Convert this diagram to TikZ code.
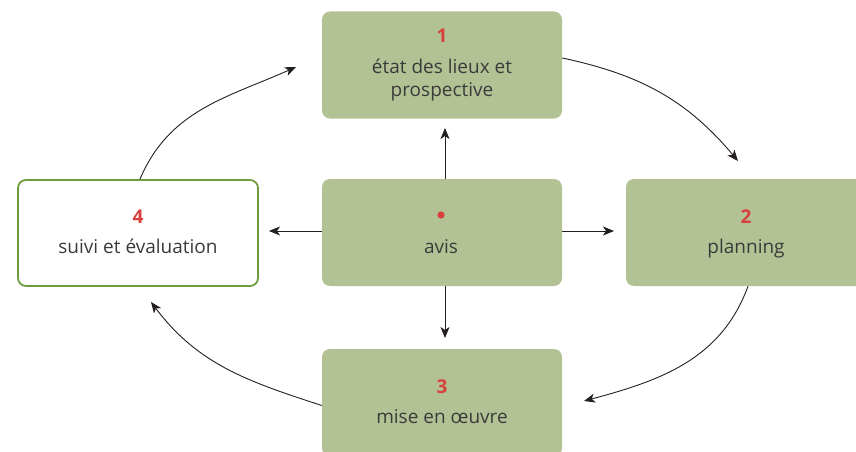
\documentclass[tikz,border=0pt]{standalone}
\usepackage{fontspec}
\setmainfont{Open Sans}
\usetikzlibrary{arrows.meta}
\definecolor{boxfill}{HTML}{B3C294}
\definecolor{boxline}{HTML}{6F9C3E}
\definecolor{numred}{HTML}{D8403E}
\definecolor{txtgray}{HTML}{3B3B3B}
\definecolor{arrowink}{HTML}{231F20}
\begin{document}
\begin{tikzpicture}[x=1pt,y=-1pt,
  stepbox/.style={rectangle, rounded corners=8pt, fill=boxfill, draw=none,
    minimum width=240pt, minimum height=107pt, inner sep=0pt},
  openbox/.style={rectangle, rounded corners=8pt, fill=white, draw=boxline,
    line width=1.8pt, minimum width=240pt, minimum height=106pt, inner sep=0pt},
  numlabel/.style={font=\fontsize{19}{22}\selectfont\bfseries, text=numred,
    inner sep=0pt, anchor=base},
  steptext/.style={font=\fontsize{19}{22}\selectfont, text=txtgray,
    inner sep=0pt, anchor=base, align=center},
  arr/.style={draw=arrowink, line width=0.9pt,
    -{Stealth[length=11pt,width=9pt,inset=3pt]}},
]
\clip (0,0) rectangle (856,452);

% boxes
\node[stepbox] (etat) at (442,65) {};
\node[stepbox] (avis) at (442,232.5) {};
\node[stepbox] (plan) at (746,232.5) {};
\node[stepbox] (mise) at (442,402.5) {};
\node[openbox] (suivi) at (138,233) {};

% numbers and texts
\node[numlabel] (n1) at (442,43) {1};
\node[steptext] (t1a) at (442,74) {état des lieux et};
\node[steptext] (t1b) at (442,96) {prospective};

\fill[numred] (441,215) circle (3.6pt);
\node[steptext] (tavis) at (441,253) {avis};

\node[numlabel] (n2) at (746,223) {2};
\node[steptext] (t2) at (746,253) {planning};

\node[numlabel] (n3) at (442,393) {3};
\node[steptext] (t3) at (442,423) {mise en œuvre};

\node[numlabel] (n4) at (138,223) {4};
\node[steptext] (t4) at (138,253) {suivi et évaluation};

% arrow tips
\coordinate (upTip) at (445,128);
\coordinate (downTip) at (445,338);
\coordinate (leftTip) at (269,231);
\coordinate (rightTip) at (614,231);
\coordinate (tipPlan) at (738,161);
\coordinate (tipMise) at (584,401);
\coordinate (tipSuivi) at (151,302);
\coordinate (tipEtat) at (296,67);

% straight arrows from the centre box
\draw[arr] ([xshift=3pt]avis.north) -- (upTip);
\draw[arr] ([xshift=3pt]avis.south) -- (downTip);
\draw[arr] ([yshift=1.5pt]avis.west) -- (leftTip);
\draw[arr] ([yshift=1.5pt]avis.east) -- (rightTip);

% cycle arrows
\draw[arr] ([yshift=7pt]etat.east) to[out=-12,in=130] (tipPlan);
\draw[arr] ([xshift=2pt]plan.south) to[out=-110,in=15] (tipMise);
\draw[arr] ([yshift=-3pt]mise.west) to[out=162,in=-53] (tipSuivi);
\draw[arr] ([xshift=2pt]suivi.north) to[out=67,in=-156] (tipEtat);
\end{tikzpicture}
\end{document}
